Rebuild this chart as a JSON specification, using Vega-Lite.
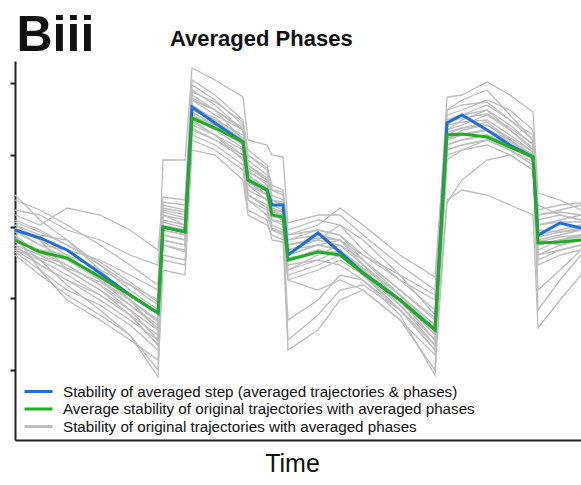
{
  "$schema": "https://vega.github.io/schema/vega-lite/v6.json",
  "width": 566,
  "height": 379,
  "autosize": {"type": "none"},
  "padding": {"left": 15, "top": 61, "right": 0, "bottom": 45},
  "background": "white",
  "config": {"view": {"stroke": null}, "font": "Liberation Sans"},
  "title": {"text": "Averaged Phases", "anchor": "start", "frame": "group", "dx": 155, "fontSize": 22, "fontWeight": "bold", "color": "#111", "font": "Liberation Sans", "offset": -41},
  "data": {"values": [
    {"t":0,"g1":215,"g2":190,"g3":225,"g4":205,"g5":245,"g6":195,"g7":210,"g8":200,"g9":220,"g10":185,"g11":200,"g12":230,"g13":190,"g14":205,"g15":215,"g16":198,"g17":212,"g18":195,"g19":240,"g20":188,"g21":208,"g22":218,"g23":202,"g24":192,"blue":210,"green":200},
    {"t":25,"g1":205,"g2":175,"g3":215,"g4":170,"g5":220,"g6":185,"g7":195,"g8":180,"g9":210,"g10":165,"g11":190,"g12":225,"g13":180,"g14":185,"g15":200,"g16":190,"g17":200,"g18":175,"g19":230,"g20":170,"g21":195,"g22":208,"g23":188,"g24":182,"blue":202,"green":188},
    {"t":52,"g1":200,"g2":160,"g3":232,"g4":140,"g5":200,"g6":170,"g7":190,"g8":155,"g9":195,"g10":145,"g11":180,"g12":210,"g13":165,"g14":175,"g15":185,"g16":185,"g17":170,"g18":160,"g19":215,"g20":150,"g21":182,"g22":195,"g23":175,"g24":172,"blue":190,"green":182},
    {"t":85,"g1":175,"g2":140,"g3":225,"g4":120,"g5":170,"g6":150,"g7":180,"g8":130,"g9":175,"g10":125,"g11":160,"g12":200,"g13":145,"g14":155,"g15":160,"g16":170,"g17":150,"g18":145,"g19":195,"g20":135,"g21":165,"g22":178,"g23":155,"g24":158,"blue":167,"green":163},
    {"t":115,"g1":150,"g2":120,"g3":210,"g4":100,"g5":140,"g6":125,"g7":165,"g8":105,"g9":155,"g10":105,"g11":140,"g12":185,"g13":125,"g14":130,"g15":135,"g16":155,"g17":130,"g18":125,"g19":175,"g20":115,"g21":140,"g22":158,"g23":135,"g24":140,"blue":145,"green":145},
    {"t":143,"g1":130,"g2":100,"g3":190,"g4":80,"g5":110,"g6":95,"g7":150,"g8":70,"g9":140,"g10":63,"g11":120,"g12":175,"g13":105,"g14":110,"g15":115,"g16":135,"g17":100,"g18":95,"g19":155,"g20":90,"g21":118,"g22":138,"g23":112,"g24":120,"blue":127,"green":127},
    {"t":148,"g1":235,"g2":200,"g3":243,"g4":180,"g5":225,"g6":210,"g7":280,"g8":170,"g9":230,"g10":195,"g11":215,"g12":238,"g13":205,"g14":220,"g15":185,"g16":225,"g17":200,"g18":210,"g19":232,"g20":195,"g21":218,"g22":228,"g23":205,"g24":212,"blue":213,"green":213},
    {"t":170,"g1":230,"g2":195,"g3":240,"g4":175,"g5":215,"g6":205,"g7":280,"g8":165,"g9":225,"g10":190,"g11":210,"g12":235,"g13":200,"g14":215,"g15":180,"g16":220,"g17":195,"g18":205,"g19":228,"g20":188,"g21":212,"g22":222,"g23":200,"g24":208,"blue":208,"green":208},
    {"t":177,"g1":345,"g2":310,"g3":360,"g4":300,"g5":340,"g6":325,"g7":372,"g8":290,"g9":350,"g10":320,"g11":330,"g12":355,"g13":315,"g14":335,"g15":305,"g16":340,"g17":318,"g18":328,"g19":348,"g20":312,"g21":332,"g22":342,"g23":322,"g24":325,"blue":333,"green":322},
    {"t":200,"g1":330,"g2":300,"g3":345,"g4":290,"g5":325,"g6":315,"g7":360,"g8":285,"g9":335,"g10":305,"g11":320,"g12":340,"g13":305,"g14":320,"g15":295,"g16":330,"g17":305,"g18":315,"g19":338,"g20":300,"g21":322,"g22":330,"g23":310,"g24":312,"blue":317,"green":312},
    {"t":228,"g1":300,"g2":285,"g3":320,"g4":270,"g5":310,"g6":295,"g7":343,"g8":260,"g9":310,"g10":285,"g11":300,"g12":315,"g13":280,"g14":305,"g15":275,"g16":310,"g17":290,"g18":295,"g19":318,"g20":282,"g21":302,"g22":312,"g23":292,"g24":296,"blue":298,"green":298},
    {"t":233,"g1":270,"g2":245,"g3":290,"g4":230,"g5":275,"g6":260,"g7":300,"g8":225,"g9":280,"g10":240,"g11":265,"g12":285,"g13":250,"g14":268,"g15":240,"g16":275,"g17":255,"g18":255,"g19":285,"g20":245,"g21":265,"g22":272,"g23":258,"g24":262,"blue":260,"green":260},
    {"t":252,"g1":255,"g2":235,"g3":275,"g4":220,"g5":260,"g6":245,"g7":295,"g8":215,"g9":265,"g10":230,"g11":250,"g12":270,"g13":240,"g14":258,"g15":225,"g16":262,"g17":245,"g18":240,"g19":272,"g20":232,"g21":252,"g22":260,"g23":245,"g24":248,"blue":250,"green":250},
    {"t":257,"g1":230,"g2":215,"g3":250,"g4":200,"g5":240,"g6":225,"g7":285,"g8":205,"g9":245,"g10":210,"g11":230,"g12":250,"g13":220,"g14":235,"g15":210,"g16":240,"g17":225,"g18":220,"g19":255,"g20":212,"g21":232,"g22":240,"g23":228,"g24":225,"blue":235,"green":225},
    {"t":268,"g1":225,"g2":210,"g3":245,"g4":198,"g5":235,"g6":220,"g7":283,"g8":200,"g9":240,"g10":205,"g11":228,"g12":248,"g13":215,"g14":230,"g15":207,"g16":238,"g17":220,"g18":218,"g19":250,"g20":208,"g21":228,"g22":235,"g23":225,"g24":222,"blue":235,"green":223},
    {"t":273,"g1":200,"g2":170,"g3":210,"g4":160,"g5":190,"g6":185,"g7":217,"g8":90,"g9":205,"g10":175,"g11":195,"g12":200,"g13":170,"g14":180,"g15":120,"g16":185,"g17":165,"g18":180,"g19":205,"g20":160,"g21":190,"g22":195,"g23":182,"g24":100,"blue":185,"green":180},
    {"t":303,"g1":210,"g2":180,"g3":220,"g4":150,"g5":200,"g6":195,"g7":225,"g8":110,"g9":215,"g10":180,"g11":200,"g12":205,"g13":185,"g14":190,"g15":140,"g16":195,"g17":175,"g18":190,"g19":210,"g20":170,"g21":195,"g22":202,"g23":188,"g24":125,"blue":207,"green":188},
    {"t":325,"g1":205,"g2":190,"g3":215,"g4":160,"g5":215,"g6":200,"g7":225,"g8":140,"g9":232,"g10":175,"g11":195,"g12":200,"g13":195,"g14":185,"g15":165,"g16":190,"g17":185,"g18":185,"g19":205,"g20":180,"g21":190,"g22":200,"g23":188,"g24":150,"blue":188,"green":185},
    {"t":348,"g1":180,"g2":170,"g3":190,"g4":150,"g5":200,"g6":175,"g7":205,"g8":150,"g9":215,"g10":160,"g11":175,"g12":185,"g13":180,"g14":165,"g15":160,"g16":170,"g17":170,"g18":165,"g19":185,"g20":165,"g21":172,"g22":180,"g23":170,"g24":155,"blue":167,"green":167},
    {"t":385,"g1":150,"g2":135,"g3":160,"g4":120,"g5":165,"g6":140,"g7":175,"g8":120,"g9":185,"g10":125,"g11":145,"g12":165,"g13":145,"g14":135,"g15":130,"g16":140,"g17":140,"g18":130,"g19":160,"g20":130,"g21":145,"g22":150,"g23":140,"g24":130,"blue":140,"green":140},
    {"t":420,"g1":120,"g2":100,"g3":130,"g4":85,"g5":125,"g6":100,"g7":150,"g8":70,"g9":163,"g10":65,"g11":115,"g12":145,"g13":105,"g14":95,"g15":90,"g16":110,"g17":100,"g18":95,"g19":140,"g20":90,"g21":112,"g22":122,"g23":105,"g24":95,"blue":110,"green":110},
    {"t":432,"g1":320,"g2":300,"g3":330,"g4":280,"g5":310,"g6":295,"g7":343,"g8":240,"g9":325,"g10":285,"g11":315,"g12":330,"g13":300,"g14":305,"g15":290,"g16":310,"g17":237,"g18":300,"g19":320,"g20":290,"g21":308,"g22":318,"g23":302,"g24":295,"blue":317,"green":305},
    {"t":447,"g1":325,"g2":305,"g3":340,"g4":290,"g5":320,"g6":300,"g7":345,"g8":250,"g9":330,"g10":290,"g11":318,"g12":335,"g13":310,"g14":312,"g15":295,"g16":315,"g17":260,"g18":305,"g19":325,"g20":295,"g21":312,"g22":322,"g23":306,"g24":300,"blue":325,"green":306},
    {"t":472,"g1":330,"g2":310,"g3":350,"g4":300,"g5":330,"g6":305,"g7":358,"g8":245,"g9":340,"g10":295,"g11":320,"g12":338,"g13":315,"g14":318,"g15":300,"g16":325,"g17":280,"g18":310,"g19":335,"g20":300,"g21":315,"g22":326,"g23":310,"g24":305,"blue":310,"green":303},
    {"t":495,"g1":310,"g2":300,"g3":325,"g4":290,"g5":315,"g6":295,"g7":345,"g8":235,"g9":330,"g10":285,"g11":305,"g12":320,"g13":300,"g14":300,"g15":290,"g16":310,"g17":285,"g18":298,"g19":320,"g20":290,"g21":302,"g22":312,"g23":300,"g24":295,"blue":295,"green":293},
    {"t":518,"g1":290,"g2":285,"g3":300,"g4":275,"g5":295,"g6":280,"g7":328,"g8":225,"g9":310,"g10":270,"g11":288,"g12":305,"g13":285,"g14":282,"g15":278,"g16":292,"g17":270,"g18":285,"g19":300,"g20":275,"g21":288,"g22":296,"g23":285,"g24":282,"blue":283,"green":283},
    {"t":523,"g1":215,"g2":190,"g3":230,"g4":180,"g5":220,"g6":200,"g7":247,"g8":112,"g9":225,"g10":175,"g11":205,"g12":235,"g13":195,"g14":210,"g15":150,"g16":200,"g17":185,"g18":195,"g19":225,"g20":185,"g21":203,"g22":215,"g23":198,"g24":130,"blue":205,"green":197},
    {"t":545,"g1":220,"g2":200,"g3":235,"g4":190,"g5":225,"g6":205,"g7":240,"g8":140,"g9":230,"g10":185,"g11":210,"g12":225,"g13":200,"g14":208,"g15":170,"g16":195,"g17":195,"g18":200,"g19":228,"g20":190,"g21":208,"g22":218,"g23":203,"g24":160,"blue":217,"green":198},
    {"t":566,"g1":225,"g2":205,"g3":237,"g4":195,"g5":220,"g6":210,"g7":230,"g8":165,"g9":235,"g10":190,"g11":215,"g12":220,"g13":205,"g14":212,"g15":190,"g16":200,"g17":200,"g18":203,"g19":225,"g20":195,"g21":210,"g22":218,"g23":205,"g24":185,"blue":212,"green":200}
  ]},
  "layer": [
    {
      "transform": [{"fold": ["g1","g2","g3","g4","g5","g6","g7","g8","g9","g10","g11","g12","g13","g14","g15","g16","g17","g18","g19","g20","g21","g22","g23","g24"], "as": ["run", "value"]}],
      "mark": {"type": "line", "strokeWidth": 1.3},
      "encoding": {
        "x": {"field": "t", "type": "quantitative", "title": "Time",
              "scale": {"domain": [0, 566], "nice": false, "zero": false},
              "axis": {"labels": false, "ticks": false, "grid": false, "domainColor": "#222", "domainWidth": 2,
                       "titleFontSize": 25, "titleFontWeight": "normal", "titleColor": "#111", "titleFont": "Liberation Sans",
                       "titleX": 277, "titleY": 31, "titleAlign": "center", "titleBaseline": "alphabetic"}},
        "y": {"field": "value", "type": "quantitative", "title": "Biii",
              "scale": {"domain": [0, 379], "nice": false, "zero": false},
              "axis": {"labels": false, "values": [70, 142, 213, 285, 357], "grid": false,
                       "tickSize": 5, "tickWidth": 2, "tickColor": "#222", "domainColor": "#222", "domainWidth": 2,
                       "titleAngle": 0, "titleAlign": "left", "titleBaseline": "alphabetic", "titleX": 1, "titleY": -11,
                       "titleFontSize": 50, "titleFontWeight": "bold", "titleColor": "#111", "titleFont": "Liberation Sans"}},
        "detail": {"field": "run", "type": "nominal"},
        "color": {"datum": "Stability of original trajectories with averaged phases", "type": "nominal",
                  "scale": {"domain": ["Stability of averaged step (averaged trajectories & phases)", "Average stability of original trajectories with averaged phases", "Stability of original trajectories with averaged phases"],
                            "range": ["#1f6fd8", "#1fae1f", "#bdbdbd"]},
                  "legend": {"orient": "none", "legendX": 15, "legendY": 322, "title": null, "symbolType": "M-2,0H2", "symbolSize": 196,
                             "symbolStrokeWidth": 3, "labelFontSize": 15.2, "labelFont": "Liberation Sans", "labelColor": "#111",
                             "labelOffset": 16, "labelLimit": 0, "rowPadding": 0.5, "padding": 0}}
      }
    },
    {
      "mark": {"type": "line", "strokeWidth": 3},
      "encoding": {
        "x": {"field": "t", "type": "quantitative", "title": "Time"},
        "y": {"field": "blue", "type": "quantitative", "title": "Biii"},
        "color": {"datum": "Stability of averaged step (averaged trajectories & phases)", "type": "nominal"}
      }
    },
    {
      "mark": {"type": "line", "strokeWidth": 3},
      "encoding": {
        "x": {"field": "t", "type": "quantitative", "title": "Time"},
        "y": {"field": "green", "type": "quantitative", "title": "Biii"},
        "color": {"datum": "Average stability of original trajectories with averaged phases", "type": "nominal"}
      }
    }
  ]
}
